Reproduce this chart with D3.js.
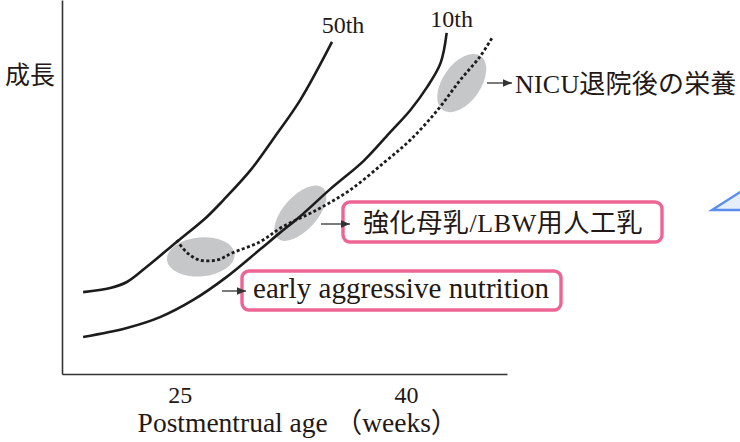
<!DOCTYPE html>
<html>
<head>
<meta charset="utf-8">
<script src="https://cdn.jsdelivr.net/npm/d3@7"></script>
<style>
    body { margin: 0; background: #fff; }
    svg { display: block; }
</style>
</head>
<body>
<svg width="740" height="442"></svg>
<script>
// growth curves: [postmenstrual age (weeks), growth (arbitrary units)]
const curve50th = [
    [18.6, 21.9], [20.4, 23.0], [21.5, 24.6], [22.8, 28.6], [24.8, 35.3],
    [26.8, 42.0], [27.9, 46.5], [29.7, 54.5], [31.3, 63.4], [33.0, 73.3], [35.1, 88.8]
];
const curve10th = [
    [18.6, 9.9], [21.5, 12.3], [23.7, 15.2], [25.9, 19.8], [28.1, 25.9],
    [30.3, 33.2], [31.6, 37.6], [33.0, 42.2], [35.0, 49.5], [37.2, 57.0],
    [38.9, 64.4], [40.3, 70.6], [41.4, 76.7], [42.3, 83.2], [42.7, 91.2]
];
const infantPath = [
    [24.8, 35.8], [25.5, 32.4], [26.3, 30.5], [27.5, 30.5], [28.5, 32.4],
    [30.3, 35.3], [31.8, 39.3], [34.1, 43.9], [36.3, 49.2], [38.6, 56.7],
    [40.3, 62.6], [42.1, 70.6], [43.6, 78.6], [44.9, 84.8], [45.7, 89.8]
];
const phaseCenters = [[26.4, 31.3], [33.0, 43.0], [43.7, 77.8]];
const phaseLabels = ["early aggressive nutrition", "強化母乳/LBW用人工乳", "NICU退院後の栄養"];
const weekTicks = [25, 40];
const percentileLabels = ["50th", "10th"];
const xTitle = "Postmentrual age （weeks）";
const yTitle = "成長";

const INK = "#231815";
const PINK = "#ee6593";
const FONT = "'Liberation Serif', 'Noto Sans CJK JP', serif";

class GrowthChart {
    constructor() {
        this.svg = d3.select("svg");
        this.x = d3.scaleLinear().domain([17.2, 46.7]).range([62, 507]);
        this.y = d3.scaleLinear().domain([0, 100]).range([374, 0]);

        this.drawAxes();
        this.drawPhases();
        this.drawCurves();
        this.drawLabels();
        this.drawBubbleTail();
    }

    drawAxes() {
        const xAxis = this.svg.append("g")
            .attr("transform", "translate(0,374)")
            .call(d3.axisBottom(this.x).tickValues(weekTicks).tickSize(0).tickSizeOuter(0));
        xAxis.selectAll("text")
            .attr("dy", null)
            .attr("y", 29)
            .style("font-family", FONT)
            .style("font-size", "24px")
            .style("fill", INK);

        const yAxis = this.svg.append("g")
            .attr("transform", "translate(62,0)")
            .call(d3.axisLeft(this.y).tickValues([]).tickSizeOuter(0));

        [xAxis, yAxis].forEach(g => g.select(".domain")
            .attr("stroke", "#333")
            .attr("stroke-width", 1.6));

        this.svg.append("text")
            .attr("x", 298)
            .attr("y", 432)
            .attr("text-anchor", "middle")
            .style("font-family", FONT)
            .style("font-size", "27.5px")
            .style("fill", INK)
            .text(xTitle);

        this.svg.append("text")
            .attr("x", 5)
            .attr("y", 84)
            .style("font-family", FONT)
            .style("font-size", "25px")
            .style("fill", INK)
            .text(yTitle);
    }

    drawPhases() {
        // semi axes + rotation of each grey blob
        const shape = [[34, 19.5, -5], [34, 17, -48], [33, 19, -55]];
        this.svg.append("g")
            .selectAll("ellipse")
            .data(phaseCenters)
            .enter().append("ellipse")
            .attr("transform", (d, i) =>
                `translate(${this.x(d[0])},${this.y(d[1])}) rotate(${shape[i][2]})`)
            .attr("rx", (d, i) => shape[i][0])
            .attr("ry", (d, i) => shape[i][1])
            .attr("fill", "#c6c7c9");
    }

    drawCurves() {
        const line = d3.line()
            .x(d => this.x(d[0]))
            .y(d => this.y(d[1]))
            .curve(d3.curveCatmullRom.alpha(0.5));

        this.svg.selectAll("path.percentile")
            .data([curve50th, curve10th])
            .enter().append("path")
            .attr("class", "percentile")
            .attr("d", line)
            .attr("fill", "none")
            .attr("stroke", "#1c1c1c")
            .attr("stroke-width", 2.6);

        this.svg.append("path")
            .attr("d", line(infantPath))
            .attr("fill", "none")
            .attr("stroke", "#1c1c1c")
            .attr("stroke-width", 2.8)
            .attr("stroke-dasharray", "3,2.4");

        // percentile names sit just above the top end of each curve
        const ends = [curve50th[curve50th.length - 1], curve10th[curve10th.length - 1]];
        const nudge = [[11, -9], [5, -6]];
        this.svg.selectAll("text.pct")
            .data(percentileLabels)
            .enter().append("text")
            .attr("class", "pct")
            .attr("x", (d, i) => this.x(ends[i][0]) + nudge[i][0])
            .attr("y", (d, i) => this.y(ends[i][1]) + nudge[i][1])
            .attr("text-anchor", "middle")
            .style("font-family", FONT)
            .style("font-size", "24px")
            .style("fill", INK)
            .text(d => d);
    }

    drawLabels() {
        this.svg.append("defs").append("marker")
            .attr("id", "head")
            .attr("markerUnits", "userSpaceOnUse")
            .attr("markerWidth", 10)
            .attr("markerHeight", 9)
            .attr("refX", 9)
            .attr("refY", 4.5)
            .attr("orient", "auto")
            .append("path")
            .attr("d", "M0,0.8 L9,4.5 L0,8.2 Z")
            .attr("fill", "#333");

        // placement of each label, in the order of phaseLabels
        const layout = [
            { arrow: [222, 246, 291], box: [242, 271, 319, 39], tx: 253, ty: 298, size: 29, ls: 0.05 },
            { arrow: [321, 350, 224], box: [343, 202, 319, 40], tx: 363, ty: 232, size: 26, ls: 0.6 },
            { arrow: [487, 512, 83], box: null, tx: 515, ty: 93, size: 26, ls: 0.2 }
        ];

        const g = this.svg.append("g");
        layout.forEach((l, i) => {
            if (l.box) {
                g.append("rect")
                    .attr("x", l.box[0])
                    .attr("y", l.box[1])
                    .attr("width", l.box[2])
                    .attr("height", l.box[3])
                    .attr("rx", 7)
                    .attr("fill", "#fff")
                    .attr("stroke", PINK)
                    .attr("stroke-width", 3.4);
            }
            g.append("line")
                .attr("x1", l.arrow[0])
                .attr("x2", l.arrow[1])
                .attr("y1", l.arrow[2])
                .attr("y2", l.arrow[2])
                .attr("stroke", "#333")
                .attr("stroke-width", 1.3)
                .attr("marker-end", "url(#head)");
            g.append("text")
                .attr("x", l.tx)
                .attr("y", l.ty)
                .style("font-family", FONT)
                .style("font-size", l.size + "px")
                .style("letter-spacing", l.ls + "px")
                .style("fill", INK)
                .text(phaseLabels[i]);
        });
    }

    drawBubbleTail() {
        // corner of a neighbouring callout that is cut by the right edge
        this.svg.append("polygon")
            .attr("points", "712,210 748,187 748,210")
            .attr("fill", "#e7eefb")
            .attr("stroke", "#5b8def")
            .attr("stroke-width", 2.4);
    }
}

new GrowthChart();
</script>
</body>
</html>
